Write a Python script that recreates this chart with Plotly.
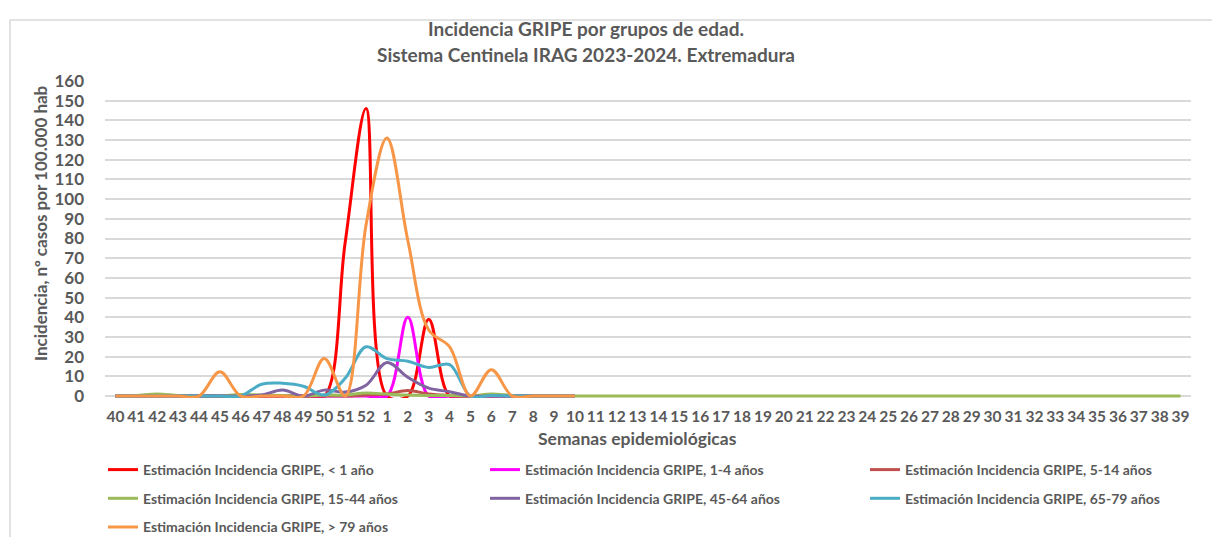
import plotly.graph_objects as go

# Semanas epidemiológicas (temporada 2023-2024)
semanas = [str(w) for w in list(range(40, 53)) + list(range(1, 40))]
semanas_hasta_10 = semanas[:23]

# Incidencia por 100.000 hab
menor_1 = [0, 0, 0, 0, 0, 0, 0, 0, 0, 0, 0, 78, 146, 0, 0, 39, 0, 0, 0, 0, 0, 0, 0]
de_1_4 = [0, 0, 0, 0, 0, 0, 0, 0, 0, 0, 0, 0, 0, 0, 40, 0, 0, 0, 0, 0, 0, 0, 0]
de_5_14 = [0, 0, 0, 0, 0, 0, 0, 0, 0, 0, 0, 0, 0.5, 1, 2.8, 1, 0.3, 0, 0, 0, 0, 0, 0]
de_15_44 = [0, 0.3, 1, 0.3, 0, 0, 0.8, 0.5, 0.3, 0,        # 40-49
            0.5, 0.5, 1.5, 1, 0.5, 0.3, 0.3, 0, 1, 0.3,    # 50-7
            0, 0, 0, 0, 0, 0, 0, 0, 0, 0,                  # 8-17
            0, 0, 0, 0, 0, 0, 0, 0, 0, 0,                  # 18-27
            0, 0, 0, 0, 0, 0, 0, 0, 0, 0,                  # 28-37
            0, 0]                                          # 38-39
de_45_64 = [0, 0, 0, 0, 0, 0, 0, 0.5, 3, 0, 3, 2, 5.5, 17, 9.5, 4, 2.2, 0, 0, 0, 0, 0, 0]
de_65_79 = [0, 0, 0, 0, 0, 0, 0, 6, 6.5, 5, 0.5, 9, 25, 19, 17.7, 14.5, 16, 0, 0.3, 0, 0, 0, 0]
mayor_79 = [0, 0, 0, 0, 0, 12.3, 0, 0, 0, 0, 19, 0, 87, 131, 79, 33.5, 25, 0, 13.4, 0, 0, 0, 0]

series = [
    ("Estimación Incidencia GRIPE, < 1 año", menor_1, "#FF0000", "legend"),
    ("Estimación Incidencia GRIPE, 1-4 años", de_1_4, "#FF00FF", "legend2"),
    ("Estimación Incidencia GRIPE, 5-14 años", de_5_14, "#C0504D", "legend3"),
    ("Estimación Incidencia GRIPE, 15-44 años", de_15_44, "#9BBB59", "legend"),
    ("Estimación Incidencia GRIPE, 45-64 años", de_45_64, "#8064A2", "legend2"),
    ("Estimación Incidencia GRIPE, 65-79 años", de_65_79, "#4BACC6", "legend3"),
    ("Estimación Incidencia GRIPE, > 79 años", mayor_79, "#F79646", "legend"),
]

GRIS = "#595959"
FUENTE = "Lato"

fig = go.Figure()
for i, (nombre, valores, color, leyenda) in enumerate(series):
    x = semanas if len(valores) == len(semanas) else semanas_hasta_10
    fig.add_trace(go.Scatter(
        x=x, y=valores, name=nombre, mode="lines",
        line=dict(color=color, width=3, shape="spline", smoothing=1),
        legend=leyenda, legendgroup=f"g{i}",
    ))

# pixel de la pagina -> coordenadas paper (area de trazado 105..1191 x, 398..81 y)
def px_x(p):
    return (p - 105) / 1086

def px_y(p):
    return (398 - p) / 317

# una leyenda por columna, como en el original
leyenda_base = dict(
    orientation="v", traceorder="grouped", tracegroupgap=7.5,
    font=dict(family=FUENTE, size=14, color=GRIS, weight="bold"),
    xanchor="left", yanchor="top", y=px_y(454), bgcolor="rgba(0,0,0,0)",
)

# el body de la pagina tiene 8px de margen: la figura se reduce en 8px
fig.update_layout(
    width=1212, height=529,
    margin=dict(l=97, r=29, t=73, b=139, autoexpand=False),
    paper_bgcolor="white", plot_bgcolor="white",
    font=dict(family=FUENTE, color=GRIS),
    showlegend=True,
    legend=dict(leyenda_base, x=px_x(103)),
    legend2=dict(leyenda_base, x=px_x(485)),
    legend3=dict(leyenda_base, x=px_x(865)),
    xaxis=dict(
        type="category", categoryorder="array", categoryarray=semanas,
        range=[-0.5, len(semanas) - 0.5],
        showgrid=False, showline=False, zeroline=False,
        ticks="", ticklabelstandoff=7, automargin=False,
        tickfont=dict(family=FUENTE, size=15.5, color=GRIS, weight="bold"),
    ),
    yaxis=dict(
        range=[-1, 160], dtick=10, tick0=0,
        showgrid=True, gridcolor="#D9D9D9", gridwidth=1.5,
        zeroline=True, zerolinecolor="#D9D9D9", zerolinewidth=1.5,
        showline=False, ticks="", ticklabelstandoff=20, automargin=False,
        tickfont=dict(family=FUENTE, size=17, color=GRIS, weight="bold"),
    ),
    annotations=[
        dict(text="Incidencia GRIPE por grupos de edad.", xref="paper", yref="paper",
             x=px_x(586), y=px_y(29), xanchor="center", yanchor="middle", showarrow=False,
             font=dict(family=FUENTE, size=19, color=GRIS, weight="bold")),
        dict(text="Sistema Centinela IRAG 2023-2024. Extremadura", xref="paper", yref="paper",
             x=px_x(586), y=px_y(54), xanchor="center", yanchor="middle", showarrow=False,
             font=dict(family=FUENTE, size=19, color=GRIS, weight="bold")),
        dict(text="Incidencia, nº casos por 100.000 hab", xref="paper", yref="paper",
             x=px_x(40), y=px_y(223), xanchor="center", yanchor="middle", showarrow=False,
             textangle=-90,
             font=dict(family=FUENTE, size=17, color=GRIS, weight="bold")),
        dict(text="Semanas epidemiológicas", xref="paper", yref="paper",
             x=px_x(637), y=px_y(438), xanchor="center", yanchor="middle", showarrow=False,
             font=dict(family=FUENTE, size=17.5, color=GRIS, weight="bold")),
    ],
    shapes=[
        dict(type="rect", xref="paper", yref="paper",
             x0=px_x(10), x1=px_x(1235), y0=px_y(560), y1=px_y(20),
             line=dict(color="#D9D9D9", width=1.5), layer="below"),
    ],
)

fig.write_html("out.html")
